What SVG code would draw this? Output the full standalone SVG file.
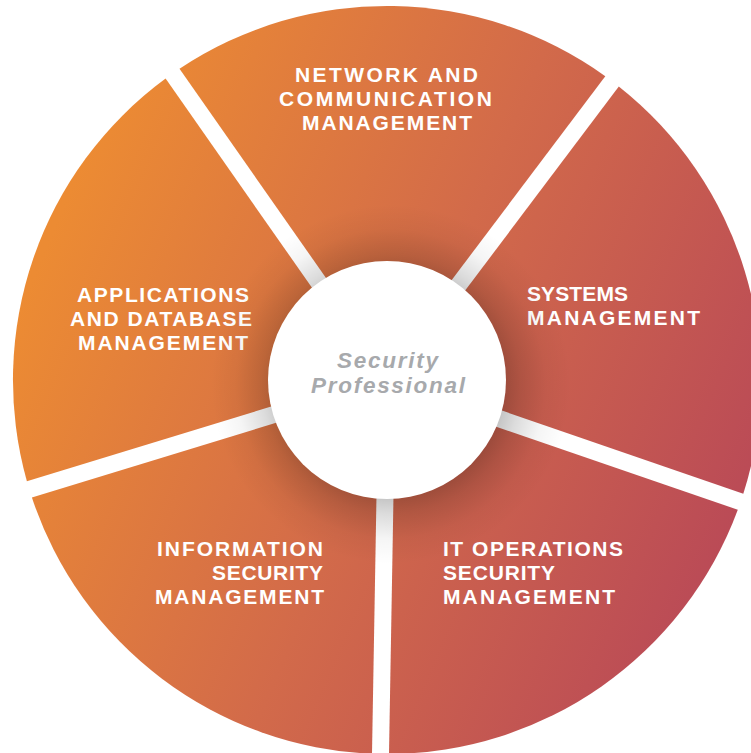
<svg xmlns="http://www.w3.org/2000/svg" width="751" height="753" viewBox="0 0 751 753">
  <style>
    .seg { fill: url(#grad); }
    .lbl { font-family: "Liberation Sans", Arial, sans-serif; font-weight: 700; font-size: 21px; fill: #ffffff; }
    .ctr { font-family: "Liberation Sans", Arial, sans-serif; font-weight: 700; font-style: italic; font-size: 22.5px; fill: #A7A9AC; }
  </style>
  <defs>
    <linearGradient id="grad" gradientUnits="userSpaceOnUse" x1="40" y1="260" x2="740" y2="560">
      <stop offset="0" stop-color="#EC8B33"/>
      <stop offset="0.5" stop-color="#D26A4A"/>
      <stop offset="1" stop-color="#B94957"/>
    </linearGradient>
    <radialGradient id="shadow" gradientUnits="userSpaceOnUse" cx="391" cy="384" r="180">
      <stop offset="0.62" stop-color="#000" stop-opacity="0.24"/>
      <stop offset="0.72" stop-color="#000" stop-opacity="0.14"/>
      <stop offset="0.86" stop-color="#000" stop-opacity="0.04"/>
      <stop offset="1" stop-color="#000" stop-opacity="0"/>
    </radialGradient>
  </defs>
  <rect width="751" height="753" fill="#ffffff"/>

  <g id="network">
    <path class="seg" d="M387.3,365.5 L179.5,68.8 A374,374 0 0 1 605.3,76.2 Z"/>
    <text class="lbl"><tspan x="295" y="82" textLength="183" lengthAdjust="spacing">NETWORK AND</tspan><tspan x="279" y="106" textLength="213" lengthAdjust="spacing">COMMUNICATION</tspan><tspan x="302" y="130" textLength="170" lengthAdjust="spacing">MANAGEMENT</tspan></text>
  </g>
  <g id="systems">
    <path class="seg" d="M400.9,375.8 L618.8,86.5 A374,374 0 0 1 743.3,493.7 Z"/>
    <text class="lbl"><tspan x="527" y="301" textLength="101" lengthAdjust="spacing">SYSTEMS</tspan><tspan x="527" y="325" textLength="173" lengthAdjust="spacing">MANAGEMENT</tspan></text>
  </g>
  <g id="itops">
    <path class="seg" d="M395.3,391.9 L737.8,509.8 A374,374 0 0 1 389.0,754.0 Z"/>
    <text class="lbl"><tspan x="443" y="556" textLength="180" lengthAdjust="spacing">IT OPERATIONS</tspan><tspan x="443" y="580" textLength="112" lengthAdjust="spacing">SECURITY</tspan><tspan x="443" y="604" textLength="172" lengthAdjust="spacing">MANAGEMENT</tspan></text>
  </g>
  <g id="infosec">
    <path class="seg" d="M378.3,391.6 L372.0,753.7 A374,374 0 0 1 31.9,497.5 Z"/>
    <text class="lbl"><tspan x="157" y="556" textLength="166" lengthAdjust="spacing">INFORMATION</tspan><tspan x="212" y="580" textLength="111" lengthAdjust="spacing">SECURITY</tspan><tspan x="155" y="604" textLength="169" lengthAdjust="spacing">MANAGEMENT</tspan></text>
  </g>
  <g id="appsdb">
    <path class="seg" d="M373.3,375.3 L26.9,481.2 A374,374 0 0 1 165.6,78.6 Z"/>
    <text class="lbl"><tspan x="77" y="302" textLength="172" lengthAdjust="spacing">APPLICATIONS</tspan><tspan x="70" y="326" textLength="182" lengthAdjust="spacing">AND DATABASE</tspan><tspan x="78" y="350" textLength="170" lengthAdjust="spacing">MANAGEMENT</tspan></text>
  </g>

  <circle cx="391" cy="384" r="180" fill="url(#shadow)"/>

  <g id="center">
    <circle cx="387" cy="380" r="119" fill="#ffffff"/>
    <text class="ctr"><tspan x="337" y="368" textLength="101" lengthAdjust="spacing">Security</tspan><tspan x="311" y="393" textLength="154" lengthAdjust="spacing">Professional</tspan></text>
  </g>
</svg>
